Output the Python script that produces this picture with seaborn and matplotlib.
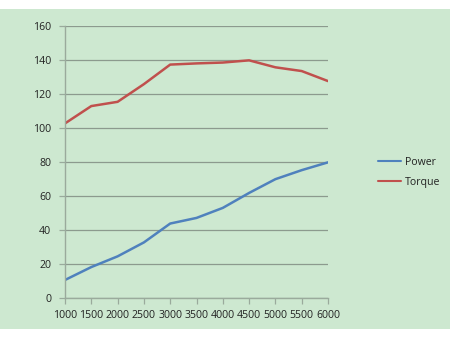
import matplotlib
matplotlib.use("Agg")
import matplotlib.pyplot as plt
import seaborn as sns
import pandas as pd
from matplotlib.patches import Rectangle

rpm = [1000, 1500, 2000, 2500, 3000, 3500, 4000, 4500, 5000, 5500, 6000]
power = [10.6, 18.2, 24.5, 32.7, 43.8, 47.1, 53.0, 61.8, 69.9, 75.2, 79.8]
torque = [102.7, 112.9, 115.4, 125.8, 137.3, 138.0, 138.5, 139.8, 135.7, 133.5, 127.6]
series = ["Power", "Torque"]
yticks = [0, 20, 40, 60, 80, 100, 120, 140, 160]

df = pd.DataFrame({
    "rpm": rpm * 2,
    "value": power + torque,
    "series": [series[0]] * len(rpm) + [series[1]] * len(rpm),
})

sns.set_theme(style="white")
plt.rcParams['font.family'] = ['Open Sans', 'DejaVu Sans']

bg = "#cde8d0"
fig = plt.figure(figsize=(4.5, 3.38), dpi=100, facecolor="white")
fig.patches.append(Rectangle((0, 1 - 329 / 338), 1, 320 / 338, transform=fig.transFigure,
                             facecolor=bg, edgecolor="none", zorder=-10))
ax = fig.add_axes([65 / 450, 1 - 298 / 338, (328 - 65) / 450, (298 - 26) / 338])
ax.set_zorder(5)
ax.set_facecolor("none")

sns.lineplot(data=df, x="rpm", y="value", hue="series",
             palette={"Power": "#4f81bd", "Torque": "#c0504d"},
             linewidth=1.8, ax=ax)

ax.set_xlim(1000, 6000)
ax.set_ylim(0, 160)
ax.set_xticks(rpm)
ax.set_yticks(yticks)
ax.set_xlabel("")
ax.set_ylabel("")
ax.grid(axis="y", color="#8c9a8e", linewidth=0.9)
ax.set_axisbelow(True)
for s in ["top", "right"]:
    ax.spines[s].set_visible(False)
for s in ["left", "bottom"]:
    ax.spines[s].set_color("#9aaa9c")
    ax.spines[s].set_linewidth(1.0)
ax.tick_params(axis="both", labelsize=7.6, colors="#9aaa9c", labelcolor="#222222",
               length=4, width=0.9, direction="out")
ax.tick_params(axis="x", pad=5)
ax.tick_params(axis="y", pad=6)
ax.xaxis.set_ticks_position("bottom")
ax.yaxis.set_ticks_position("left")

leg = ax.legend(loc="center left", bbox_to_anchor=(1.155, 0.462), frameon=False,
                fontsize=7.6, handlelength=2.2, labelspacing=0.8, handletextpad=0.3)
for line in leg.get_lines():
    line.set_linewidth(1.5)
for t in leg.get_texts():
    t.set_color("#222222")

fig.savefig("out.png", dpi=100, facecolor="white")
